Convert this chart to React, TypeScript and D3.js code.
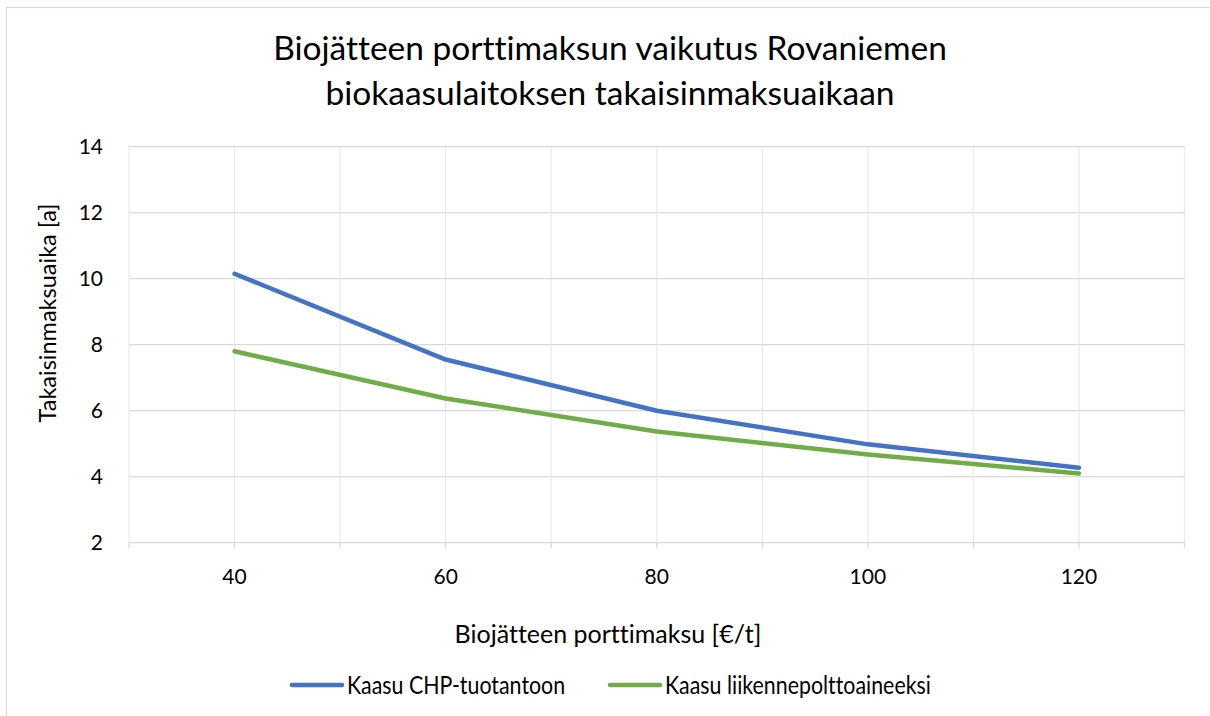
import React from "react";
import * as d3 from "d3";

const titleLines = ["Biojätteen porttimaksun vaikutus Rovaniemen", "biokaasulaitoksen takaisinmaksuaikaan"];
const xValues = [40, 60, 80, 100, 120];
const chpValues = [10.15, 7.55, 6.0, 4.98, 4.27];
const fuelValues = [7.8, 6.37, 5.37, 4.67, 4.1];
const seriesNames = ["Kaasu CHP-tuotantoon", "Kaasu liikennepolttoaineeksi"];
const seriesColors = ["#4472C4", "#70AD47"];
const yTicks = [2, 4, 6, 8, 10, 12, 14];
const xGrid = [30, 40, 50, 60, 70, 80, 90, 100, 110, 120, 130];
const xLabels = [40, 60, 80, 100, 120];
const xTitle = "Biojätteen porttimaksu [€/t]";
const yTitle = "Takaisinmaksuaika [a]";

const FONT = "Lato, 'Open Sans', sans-serif";

export default function App() {
  const W = 1210, H = 716;
  const x = d3.scaleLinear().domain([30, 130]).range([129, 1184.5]);
  const y = d3.scaleLinear().domain([2, 14]).range([542.7, 146.7]);
  const line = d3.line<number>().x((_, i) => x(xValues[i])).y((d) => y(d)).curve(d3.curveLinear);
  const series = [chpValues, fuelValues];
  const legend = [
    { x0: 292, x1: 342, tx: 347 },
    { x0: 610, x1: 660, tx: 665 },
  ];
  return (
    <svg width={W} height={H} style={{ position: "absolute", left: 0, top: 0, background: "#fff", fontVariantLigatures: "none" }} fontFamily={FONT}>
      <rect x={0} y={0} width={W} height={H} fill="#fff" />
      <rect x={6.5} y={7.5} width={1300} height={800} fill="none" stroke="#d9d9d9" strokeWidth={1.2} />
      {titleLines.map((t, i) => (
        <text key={t} x={610} y={60 + i * 45} textAnchor="middle" fontSize={33.5} fill="#000">{t}</text>
      ))}
      {xGrid.map((v) => (
        <line key={"vg" + v} x1={x(v)} x2={x(v)} y1={y(14)} y2={y(2)} stroke="#ececec" strokeWidth={1.3} />
      ))}
      {yTicks.map((v) => (
        <line key={"hg" + v} x1={x(30)} x2={x(130)} y1={y(v)} y2={y(v)} stroke="#d9d9d9" strokeWidth={1.3} />
      ))}
      {xGrid.map((v) => (
        <line key={"tk" + v} x1={x(v)} x2={x(v)} y1={y(2)} y2={y(2) + 5} stroke="#d9d9d9" strokeWidth={1.3} />
      ))}
      {yTicks.map((v) => (
        <text key={"yl" + v} x={103} y={y(v) + 7.5} textAnchor="end" fontSize={21} fill="#000">{v}</text>
      ))}
      {xLabels.map((v) => (
        <text key={"xl" + v} x={x(v)} y={584} textAnchor="middle" fontSize={21} fill="#000">{v}</text>
      ))}
      <text x={608} y={643} textAnchor="middle" fontSize={25} fill="#000">{xTitle}</text>
      <text transform={`translate(56,313) rotate(-90)`} textAnchor="middle" fontSize={23.5} fill="#000">{yTitle}</text>
      {series.map((s, i) => (
        <path key={"s" + i} d={line(s) || ""} fill="none" stroke={seriesColors[i]} strokeWidth={4.5} strokeLinecap="round" strokeLinejoin="round" />
      ))}
      {legend.map((l, i) => (
        <g key={"lg" + i}>
          <line x1={l.x0} x2={l.x1} y1={685} y2={685} stroke={seriesColors[i]} strokeWidth={4.5} strokeLinecap="round" />
          <text transform={`translate(${l.tx},694) scale(0.855,1)`} fontSize={25} fill="#000">{seriesNames[i]}</text>
        </g>
      ))}
    </svg>
  );
}
